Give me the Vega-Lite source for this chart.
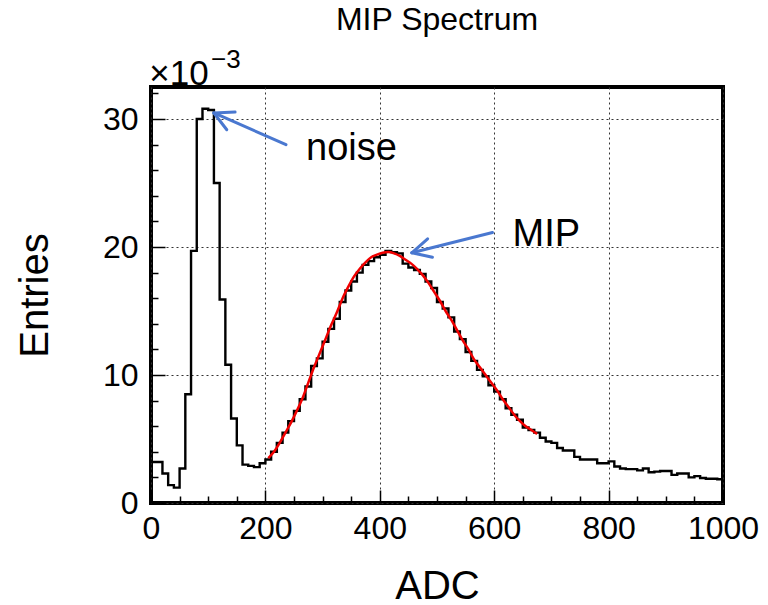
{
  "$schema": "https://vega.github.io/schema/vega-lite/v6.json",
  "width": 572,
  "height": 416,
  "autosize": {"type": "none"},
  "padding": {"left": 151, "top": 87, "right": 45, "bottom": 102},
  "background": "white",
  "title": {"text": "MIP Spectrum", "fontSize": 32, "fontWeight": "normal", "font": "Liberation Sans", "anchor": "middle", "frame": "group", "baseline": "alphabetic", "offset": -15, "color": "black"},
  "datasets": {
    "hist": [
      {"adc": 0, "entries": 3.2}, {"adc": 10, "entries": 3.2}, {"adc": 20, "entries": 2.3}, {"adc": 30, "entries": 1.4},
      {"adc": 40, "entries": 1.2}, {"adc": 50, "entries": 2.7}, {"adc": 60, "entries": 8.5}, {"adc": 70, "entries": 19.7},
      {"adc": 80, "entries": 30.0}, {"adc": 90, "entries": 30.8}, {"adc": 100, "entries": 30.7}, {"adc": 110, "entries": 25.0},
      {"adc": 120, "entries": 15.9}, {"adc": 130, "entries": 10.8}, {"adc": 140, "entries": 6.6}, {"adc": 150, "entries": 4.5},
      {"adc": 160, "entries": 3.0}, {"adc": 170, "entries": 2.9}, {"adc": 180, "entries": 2.8}, {"adc": 190, "entries": 3.1},
      {"adc": 200, "entries": 3.4}, {"adc": 210, "entries": 4.0}, {"adc": 220, "entries": 4.7}, {"adc": 230, "entries": 5.5},
      {"adc": 240, "entries": 6.4}, {"adc": 250, "entries": 7.2}, {"adc": 260, "entries": 8.1}, {"adc": 270, "entries": 9.1},
      {"adc": 280, "entries": 10.7}, {"adc": 290, "entries": 11.3}, {"adc": 300, "entries": 12.6}, {"adc": 310, "entries": 13.6},
      {"adc": 320, "entries": 14.4}, {"adc": 330, "entries": 15.7}, {"adc": 340, "entries": 16.6}, {"adc": 350, "entries": 17.3},
      {"adc": 360, "entries": 18.0}, {"adc": 370, "entries": 18.6}, {"adc": 380, "entries": 18.9}, {"adc": 390, "entries": 19.2},
      {"adc": 400, "entries": 19.4}, {"adc": 410, "entries": 19.7}, {"adc": 420, "entries": 19.6}, {"adc": 430, "entries": 19.5},
      {"adc": 440, "entries": 18.7}, {"adc": 450, "entries": 18.4}, {"adc": 460, "entries": 18.2}, {"adc": 470, "entries": 17.9},
      {"adc": 480, "entries": 17.3}, {"adc": 490, "entries": 16.8}, {"adc": 500, "entries": 15.7}, {"adc": 510, "entries": 15.2},
      {"adc": 520, "entries": 14.5}, {"adc": 530, "entries": 13.4}, {"adc": 540, "entries": 12.8}, {"adc": 550, "entries": 11.8},
      {"adc": 560, "entries": 11.1}, {"adc": 570, "entries": 10.4}, {"adc": 580, "entries": 9.9}, {"adc": 590, "entries": 9.2},
      {"adc": 600, "entries": 8.7}, {"adc": 610, "entries": 8.1}, {"adc": 620, "entries": 7.4}, {"adc": 630, "entries": 6.9},
      {"adc": 640, "entries": 6.5}, {"adc": 650, "entries": 5.9}, {"adc": 660, "entries": 5.7}, {"adc": 670, "entries": 5.5},
      {"adc": 680, "entries": 5.1}, {"adc": 690, "entries": 4.8}, {"adc": 700, "entries": 4.7}, {"adc": 710, "entries": 4.3},
      {"adc": 720, "entries": 4.1}, {"adc": 730, "entries": 4.1}, {"adc": 740, "entries": 3.6}, {"adc": 750, "entries": 3.4},
      {"adc": 760, "entries": 3.4}, {"adc": 770, "entries": 3.4}, {"adc": 780, "entries": 3.1}, {"adc": 790, "entries": 3.1},
      {"adc": 800, "entries": 3.25}, {"adc": 810, "entries": 2.85}, {"adc": 820, "entries": 2.7}, {"adc": 830, "entries": 2.65},
      {"adc": 840, "entries": 2.65}, {"adc": 850, "entries": 2.55}, {"adc": 860, "entries": 2.7}, {"adc": 870, "entries": 2.4},
      {"adc": 880, "entries": 2.45}, {"adc": 890, "entries": 2.5}, {"adc": 900, "entries": 2.5}, {"adc": 910, "entries": 2.2},
      {"adc": 920, "entries": 2.3}, {"adc": 930, "entries": 2.3}, {"adc": 940, "entries": 2.0}, {"adc": 950, "entries": 2.1},
      {"adc": 960, "entries": 1.95}, {"adc": 970, "entries": 1.9}, {"adc": 980, "entries": 1.9}, {"adc": 990, "entries": 1.85},
      {"adc": 1000, "entries": 1.85}
    ],
    "fit": [
      {"adc": 205, "entries": 3.5}, {"adc": 215, "entries": 4.0}, {"adc": 225, "entries": 4.7}, {"adc": 235, "entries": 5.5},
      {"adc": 245, "entries": 6.3}, {"adc": 255, "entries": 7.2}, {"adc": 265, "entries": 8.2}, {"adc": 275, "entries": 9.4},
      {"adc": 285, "entries": 10.6}, {"adc": 295, "entries": 11.7}, {"adc": 305, "entries": 12.8}, {"adc": 315, "entries": 13.9},
      {"adc": 325, "entries": 14.9}, {"adc": 335, "entries": 16.0}, {"adc": 345, "entries": 16.9}, {"adc": 355, "entries": 17.7},
      {"adc": 365, "entries": 18.3}, {"adc": 375, "entries": 18.8}, {"adc": 385, "entries": 19.2}, {"adc": 395, "entries": 19.4},
      {"adc": 405, "entries": 19.55}, {"adc": 415, "entries": 19.6}, {"adc": 425, "entries": 19.5}, {"adc": 435, "entries": 19.3},
      {"adc": 445, "entries": 19.0}, {"adc": 455, "entries": 18.7}, {"adc": 465, "entries": 18.3}, {"adc": 475, "entries": 17.8},
      {"adc": 485, "entries": 17.2}, {"adc": 495, "entries": 16.5}, {"adc": 505, "entries": 15.8}, {"adc": 515, "entries": 15.0},
      {"adc": 525, "entries": 14.3}, {"adc": 535, "entries": 13.5}, {"adc": 545, "entries": 12.7}, {"adc": 555, "entries": 12.0},
      {"adc": 565, "entries": 11.2}, {"adc": 575, "entries": 10.6}, {"adc": 585, "entries": 10.0}, {"adc": 595, "entries": 9.4},
      {"adc": 605, "entries": 8.8}, {"adc": 615, "entries": 8.1}, {"adc": 625, "entries": 7.5}, {"adc": 635, "entries": 6.9},
      {"adc": 645, "entries": 6.4}, {"adc": 655, "entries": 6.0}, {"adc": 665, "entries": 5.7}, {"adc": 675, "entries": 5.4}
    ],
    "arrows": [
      {"adc": 110, "entries": 30.47, "adc2": 236, "entries2": 28.0},
      {"adc": 110, "entries": 30.47, "adc2": 147, "entries2": 30.55},
      {"adc": 110, "entries": 30.47, "adc2": 132.5, "entries2": 29.16},
      {"adc": 456, "entries": 19.55, "adc2": 597, "entries2": 21.13},
      {"adc": 456, "entries": 19.55, "adc2": 483.6, "entries2": 20.64},
      {"adc": 456, "entries": 19.55, "adc2": 492, "entries2": 19.2}
    ],
    "notes": [
      {"adc": 271, "entries": 26.8, "label": "noise"},
      {"adc": 632, "entries": 20.1, "label": "MIP"}
    ],
    "mult": [{"adc": -3, "entries": 32.68, "label": "×10"}],
    "expo": [{"adc": 105, "entries": 34.0, "label": "−3"}]
  },
  "encoding": {
    "x": {
      "field": "adc", "type": "quantitative",
      "scale": {"domain": [0, 1000], "nice": false, "zero": false},
      "axis": {
        "title": "ADC",
        "values": [0, 50, 100, 150, 200, 250, 300, 350, 400, 450, 500, 550, 600, 650, 700, 750, 800, 850, 900, 950, 1000],
        "format": "d",
        "labelExpr": "datum.value % 200 === 0 ? datum.label : ''",
        "labelFlush": false,
        "labelOverlap": false,
        "tickSize": {"condition": {"test": "datum.value % 200 === 0", "value": -13}, "value": -7},
        "gridOpacity": {"condition": {"test": "datum.value % 200 === 0", "value": 1}, "value": 0},
        "labelPadding": 23,
        "titlePadding": 16
      }
    },
    "y": {
      "field": "entries", "type": "quantitative",
      "scale": {"domain": [0, 32.5], "nice": false, "zero": true},
      "axis": {
        "title": "Entries",
        "values": [0, 2, 4, 6, 8, 10, 12, 14, 16, 18, 20, 22, 24, 26, 28, 30, 32],
        "format": "d",
        "labelExpr": "datum.value % 10 === 0 ? datum.label : ''",
        "labelOverlap": false,
        "tickSize": {"condition": {"test": "datum.value % 10 === 0", "value": -14}, "value": -7},
        "gridOpacity": {"condition": {"test": "datum.value % 10 === 0", "value": 1}, "value": 0},
        "labelPadding": 27,
        "titlePadding": 47
      }
    }
  },
  "layer": [
    {"data": {"name": "hist"}, "mark": {"type": "line", "interpolate": "step-after", "color": "black", "strokeWidth": 2.4}},
    {"data": {"name": "fit"}, "mark": {"type": "line", "interpolate": "monotone", "color": "#f00000", "strokeWidth": 2.5}},
    {"data": {"name": "arrows"}, "mark": {"type": "rule", "color": "#4a78d0", "strokeWidth": 3, "strokeCap": "round"}, "encoding": {"x2": {"field": "adc2"}, "y2": {"field": "entries2"}}},
    {"data": {"name": "notes"}, "mark": {"type": "text", "align": "left", "baseline": "alphabetic", "fontSize": 38, "color": "black"}, "encoding": {"text": {"field": "label"}}},
    {"data": {"name": "mult"}, "mark": {"type": "text", "align": "left", "baseline": "alphabetic", "fontSize": 35, "color": "black"}, "encoding": {"text": {"field": "label"}}},
    {"data": {"name": "expo"}, "mark": {"type": "text", "align": "left", "baseline": "alphabetic", "fontSize": 26, "color": "black"}, "encoding": {"text": {"field": "label"}}}
  ],
  "config": {
    "font": "Liberation Sans",
    "view": {"stroke": "black", "strokeWidth": 4},
    "axis": {
      "domain": false,
      "grid": true,
      "gridColor": "#333333",
      "gridDash": [2, 3],
      "gridWidth": 1,
      "tickColor": "black",
      "tickWidth": 1.5,
      "labelFontSize": 32,
      "labelColor": "black",
      "labelFont": "Liberation Sans",
      "titleFont": "Liberation Sans",
      "titleFontSize": 40,
      "titleFontWeight": "normal",
      "titleColor": "black"
    }
  }
}
